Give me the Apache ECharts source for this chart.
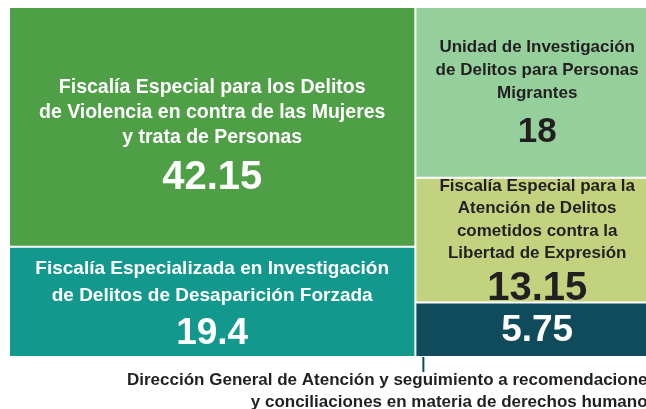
<!DOCTYPE html>
<html>
<head>
<meta charset="utf-8">
<script src="https://cdn.jsdelivr.net/npm/echarts@6/dist/echarts.min.js"></script>
<style>
  html, body { margin: 0; padding: 0; background: #fff; }
  #chart { width: 646px; height: 409px; }
</style>
</head>
<body>
<div id="chart"></div>
<script>
// nombres de cada celda (con los saltos de línea del original)
const names = [
  'Fiscalía Especial para los Delitos\nde Violencia en contra de las Mujeres\ny trata de Personas',
  'Fiscalía Especializada en Investigación\nde Delitos de Desaparición Forzada',
  'Unidad de Investigación\nde Delitos para Personas\nMigrantes',
  'Fiscalía Especial para la\nAtención de Delitos\ncometidos contra la\nLibertad de Expresión',
  'Dirección General de Atención y seguimiento a recomendaciones\ny conciliaciones en materia de derechos humanos'
];
const values = [42.15, 19.4, 18, 13.15, 5.75];
const valueLabels = ['42.15', '19.4', '18', '13.15', '5.75'];
// columna a la que pertenece cada celda (0 = izquierda, 1 = derecha)
const columnOf = [0, 0, 1, 1, 1];

// estilos por celda
const colors = ['#4f9f47', '#13988e', '#95cf9b', '#c2d27f', '#0f4b5b'];
const textColors = ['#ffffff', '#ffffff', '#231f20', '#231f20', '#ffffff'];
const nameSize = [19.5, 19, 17, 17, 17];
const nameLH = [25, 27, 23, 22.5, 22];
const valueSize = [40, 37, 35, 40, 37];
const valueLH = [56, 50, 56, 47.5, 40];
const textDy = [13.5, 5, 5.5, 3.5, 1.5];
const nameOutside = [false, false, false, false, true];

// totales por columna y rectángulos (en unidades de datos)
const colTotals = [0, 0];
values.forEach((v, i) => { colTotals[columnOf[i]] += v; });
const grand = colTotals[0] + colTotals[1];
const colStart = [0, colTotals[0]];
const acc = [0, 0];
const cells = values.map((v, i) => {
  const c = columnOf[i];
  const y0 = acc[c] / colTotals[c];
  acc[c] += v;
  return [colStart[c], colStart[c] + colTotals[c], y0, acc[c] / colTotals[c], v];
});

const FONT = '"Liberation Sans", Arial, sans-serif';

let chart = echarts.init(document.getElementById('chart'));

chart.setOption({
  backgroundColor: '#ffffff',
  animation: false,
  // el mapa continúa más allá del borde derecho (650px de ancho, se ven 637)
  grid: { left: 9, top: 7, right: 0, height: 350 },
  xAxis: { type: 'value', min: 0, max: grand * 637 / 650, show: false },
  yAxis: { type: 'value', min: 0, max: 1, inverse: true, show: false },
  series: [{
    type: 'custom',
    clip: false,
    data: cells,
    renderItem: function (params, api) {
      const i = params.dataIndex;
      const p0 = api.coord([api.value(0), api.value(2)]);
      const p1 = api.coord([api.value(1), api.value(3)]);
      const x = p0[0] + 1, y = p0[1] + 1;
      const w = p1[0] - p0[0] - 2, h = p1[1] - p0[1] - 2;
      const rich = {
        n: { fontFamily: FONT, fontWeight: 'bold', fontSize: nameSize[i], lineHeight: nameLH[i], fill: textColors[i] },
        v: { fontFamily: FONT, fontWeight: 'bold', fontSize: valueSize[i], lineHeight: valueLH[i], fill: textColors[i] }
      };
      let txt = '{v|' + valueLabels[i] + '}';
      if (!nameOutside[i]) txt = '{n|' + names[i] + '}\n' + txt;
      const children = [
        { type: 'rect', shape: { x: x, y: y, width: w, height: h }, style: { fill: colors[i] } },
        { type: 'text', x: x + w / 2, y: y + h / 2 + textDy[i], style: { text: txt, rich: rich, align: 'center', verticalAlign: 'middle' } }
      ];
      if (nameOutside[i]) {
        // línea guía y nombre debajo de la celda
        children.push({
          type: 'line',
          shape: { x1: x + 7, y1: y + h + 1, x2: x + 7, y2: y + h + 16 },
          style: { stroke: colors[i], lineWidth: 2 }
        });
        children.push({
          type: 'text', x: x + w - 1, y: y + h + 13,
          style: {
            text: names[i], fontFamily: FONT, fontWeight: 'bold', fontSize: nameSize[i],
            lineHeight: nameLH[i], fill: '#231f20', align: 'right', verticalAlign: 'top'
          }
        });
      }
      return { type: 'group', children: children };
    }
  }]
});
</script>
</body>
</html>
